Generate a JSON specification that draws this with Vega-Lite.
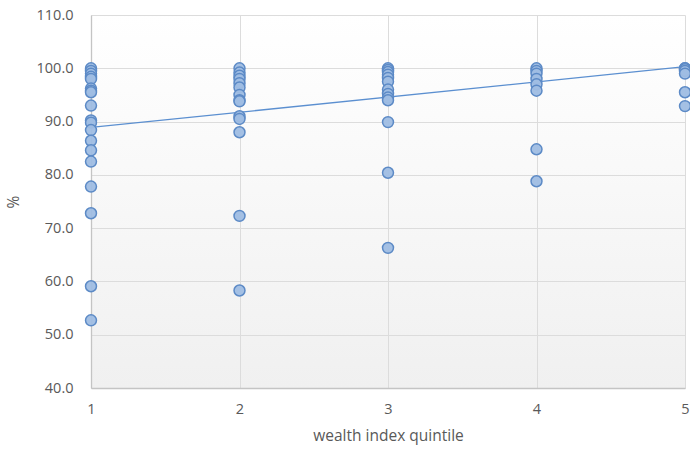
{
  "$schema": "https://vega.github.io/schema/vega-lite/v6.json",
  "autosize": {"type": "none"},
  "width": 594,
  "height": 373,
  "padding": {"left": 91, "top": 15, "right": 5, "bottom": 69},
  "background": "#ffffff",
  "config": {
    "font": "Open Sans",
    "view": {"stroke": null, "fill": {"gradient": "linear", "x1": 0, "y1": 0, "x2": 0, "y2": 1, "stops": [{"offset": 0, "color": "#ffffff"}, {"offset": 1, "color": "#f0f0f0"}]}},
    "axis": {"labelColor": "#595959", "titleColor": "#595959", "labelFontSize": 14.5, "titleFontSize": 15.5, "titleFontWeight": "normal", "gridColor": "#dcdcdc", "gridWidth": 1, "ticks": false, "domainColor": "#c4c4c4", "domainWidth": 1.3, "labelFlush": false}
  },
  "datasets": {
    "pts": [
      {"q": 1, "v": 100}, {"q": 1, "v": 99.5}, {"q": 1, "v": 99}, {"q": 1, "v": 98.4}, {"q": 1, "v": 98}, {"q": 1, "v": 96.2}, {"q": 1, "v": 95.8}, {"q": 1, "v": 95.5}, {"q": 1, "v": 93}, {"q": 1, "v": 90.2}, {"q": 1, "v": 89.8}, {"q": 1, "v": 88.4}, {"q": 1, "v": 86.4}, {"q": 1, "v": 84.6}, {"q": 1, "v": 82.5}, {"q": 1, "v": 77.8}, {"q": 1, "v": 72.8}, {"q": 1, "v": 59.1}, {"q": 1, "v": 52.7},
      {"q": 2, "v": 100}, {"q": 2, "v": 99.2}, {"q": 2, "v": 98.6}, {"q": 2, "v": 98}, {"q": 2, "v": 97.2}, {"q": 2, "v": 96.4}, {"q": 2, "v": 95}, {"q": 2, "v": 94}, {"q": 2, "v": 93.8}, {"q": 2, "v": 91}, {"q": 2, "v": 90.5}, {"q": 2, "v": 88}, {"q": 2, "v": 72.3}, {"q": 2, "v": 58.3},
      {"q": 3, "v": 100}, {"q": 3, "v": 99.7}, {"q": 3, "v": 99.3}, {"q": 3, "v": 98.8}, {"q": 3, "v": 98.2}, {"q": 3, "v": 97.5}, {"q": 3, "v": 96}, {"q": 3, "v": 95.2}, {"q": 3, "v": 94.5}, {"q": 3, "v": 94}, {"q": 3, "v": 89.9}, {"q": 3, "v": 80.4}, {"q": 3, "v": 66.3},
      {"q": 4, "v": 100}, {"q": 4, "v": 99.5}, {"q": 4, "v": 99}, {"q": 4, "v": 98}, {"q": 4, "v": 97}, {"q": 4, "v": 95.8}, {"q": 4, "v": 84.8}, {"q": 4, "v": 78.8},
      {"q": 5, "v": 100}, {"q": 5, "v": 100}, {"q": 5, "v": 99.8}, {"q": 5, "v": 99.5}, {"q": 5, "v": 99}, {"q": 5, "v": 95.5}, {"q": 5, "v": 92.9}
    ],
    "trend": [{"q": 1, "v": 88.9}, {"q": 5, "v": 100.3}]
  },
  "layer": [
    {
      "data": {"name": "trend"},
      "mark": {"type": "line", "color": "#5b8fd0", "strokeWidth": 1.3, "clip": true},
      "encoding": {
        "x": {"field": "q", "type": "quantitative", "scale": {"domain": [1, 5], "nice": false}, "axis": {"title": "wealth index quintile", "values": [1, 2, 3, 4, 5], "format": "d", "labelPadding": 14, "titlePadding": 13, "grid": true}},
        "y": {"field": "v", "type": "quantitative", "scale": {"domain": [40, 110], "nice": false, "zero": false}, "axis": {"title": "%", "values": [40, 50, 60, 70, 80, 90, 100, 110], "format": ".1f", "labelPadding": 18, "titlePadding": 15, "grid": true}}
      }
    },
    {
      "data": {"name": "pts"},
      "mark": {"type": "point", "filled": true, "shape": "circle", "size": 120, "fill": "#9fbde3", "stroke": "#5c8ac6", "strokeWidth": 1.5, "opacity": 1, "fillOpacity": 0.95, "clip": false},
      "encoding": {
        "x": {"field": "q", "type": "quantitative"},
        "y": {"field": "v", "type": "quantitative"}
      }
    }
  ]
}
